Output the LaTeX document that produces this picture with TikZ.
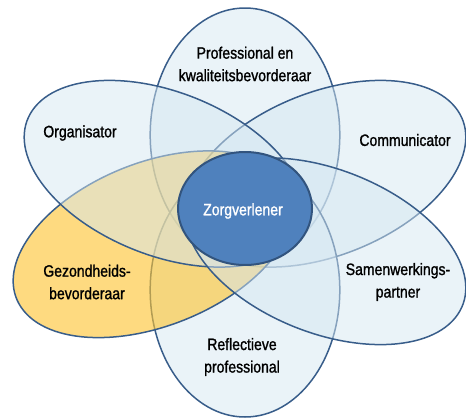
\documentclass[tikz,border=0pt]{standalone}
\usepackage{fontspec}
\setmainfont{Liberation Sans}[FakeStretch=0.85, FakeBold=1.2]
\definecolor{petal}{RGB}{213,231,241}
\definecolor{edge}{RGB}{56,93,138}
\definecolor{yel}{RGB}{253,196,50}
\definecolor{core}{RGB}{79,129,189}
\definecolor{coreedge}{RGB}{50,84,126}
\tikzset{
  petalstyle/.style={draw=edge, line width=1.5pt, fill=petal, fill opacity=0.5},
  yelstyle/.style={draw=edge, line width=1.5pt, fill=yel, fill opacity=0.62},
  corestyle/.style={draw=coreedge, line width=2pt, fill=core},
  lbl/.style={font=\fontsize{16.5}{22.5}\selectfont, align=center, text=black}
}
\begin{document}
\begin{tikzpicture}[x=1pt,y=1pt]
\useasboundingbox (0,0) rectangle (466,-418);
\clip (0,0) rectangle (466,-418);
\begin{scope}[shift={(245,-212.5)}, xscale=1.2]
  % Professional en kwaliteitsbevorderaar
  \draw[petalstyle, rotate=90] (77.5,0) ellipse [x radius=127pt, y radius=79pt];
  % Communicator
  \draw[petalstyle, rotate=30] (77.5,0) ellipse [x radius=127pt, y radius=79pt];
  % Reflectieve professional
  \draw[petalstyle, rotate=270] (77.5,0) ellipse [x radius=127pt, y radius=79pt];
  % Gezondheidsbevorderaar
  \draw[yelstyle, shift={(-9.2,7)}, rotate=210] (77.5,0) ellipse [x radius=127pt, y radius=79pt];
  % Organisator
  \draw[petalstyle, rotate=150] (77.5,0) ellipse [x radius=127pt, y radius=79pt];
  % Samenwerkingspartner
  \draw[petalstyle, rotate=330] (77.5,0) ellipse [x radius=127pt, y radius=79pt];
\end{scope}
\draw[corestyle] (245,-208.5) ellipse [x radius=67pt, y radius=56.5pt];
\node[lbl] (prof) at (245,-64) {Professional en\\kwaliteitsbevorderaar};
\node[lbl] (org) at (80,-133) {Organisator};
\node[lbl] (com) at (405,-140) {Communicator};
\node[lbl, text=white] (zorg) at (243,-211) {Zorgverlener};
\node[lbl] (gez) at (87,-282) {Gezondheids-\\bevorderaar};
\node[lbl] (sam) at (398,-282) {Samenwerkings-\\partner};
\node[lbl] (ref) at (242,-357) {Reflectieve\\professional};
\end{tikzpicture}
\end{document}
